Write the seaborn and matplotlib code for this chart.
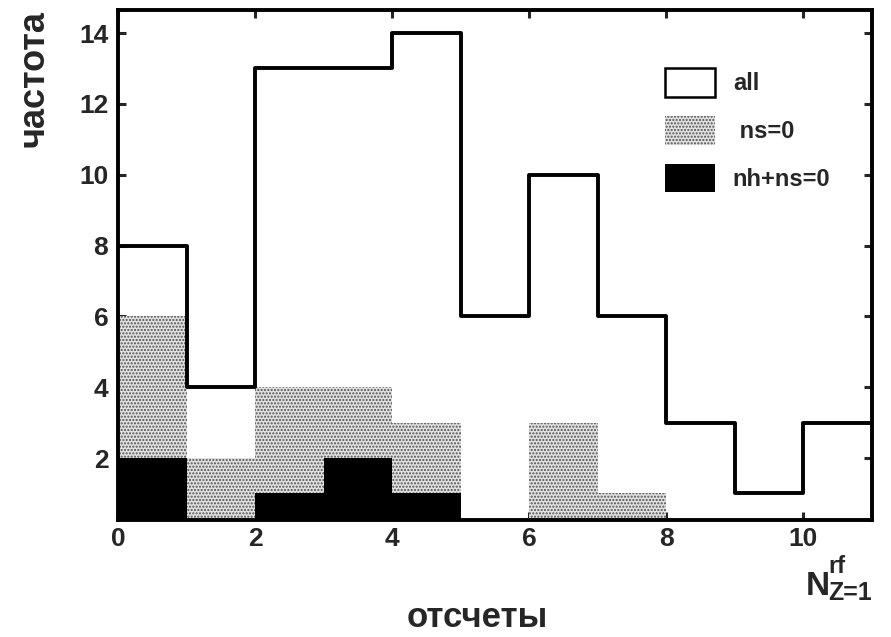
import numpy as np
import pandas as pd
import matplotlib
matplotlib.use("Agg")
import matplotlib.pyplot as plt
from matplotlib.patches import Patch
import seaborn as sns

# ---- data ----
bin_edges = [0, 1, 2, 3, 4, 5, 6, 7, 8, 9, 10, 11]
all_counts = [8, 4, 13, 13, 14, 6, 10, 6, 3, 1, 3]
ns0_counts = [6, 2, 4, 4, 3, 0, 3, 1, 0, 0, 0]
nhns0_counts = [2, 0, 1, 2, 1, 0, 0, 0, 0, 0, 0]
x_ticks = [0, 2, 4, 6, 8, 10]
y_ticks = [2, 4, 6, 8, 10, 12, 14]
legend_labels = ["all", " ns=0", "nh+ns=0"]

sns.set_style("white")
plt.rcParams["font.family"] = ["Liberation Sans", "DejaVu Sans"]
plt.rcParams["font.weight"] = "bold"
plt.rcParams["hatch.linewidth"] = 1.0

W, H = 891, 637
fig = plt.figure(figsize=(W / 100, H / 100), dpi=100)
ax = fig.add_axes([118 / W, 1 - 520 / H, (872 - 118) / W, (520 - 10) / H])

centers = [(a + b) / 2 for a, b in zip(bin_edges[:-1], bin_edges[1:])]
df = pd.DataFrame({"x": centers, "all": all_counts, "ns0": ns0_counts, "nhns0": nhns0_counts})

sns.histplot(data=df, x="x", weights="ns0", bins=bin_edges, element="bars", fill=True,
             facecolor="#e0e0e0", edgecolor="#505050", linewidth=0, hatch=".....",
             alpha=1, ax=ax, zorder=1)
sns.histplot(data=df, x="x", weights="nhns0", bins=bin_edges, element="bars", fill=True,
             color="black", linewidth=0, alpha=1, ax=ax, zorder=2)
sns.histplot(data=df, x="x", weights="all", bins=bin_edges, element="step", fill=False,
             color="black", linewidth=2.8, ax=ax, zorder=3)

ax.set_xlim(0, 11)
ax.set_ylim(0.25, 14.65)
ax.set_xticks(x_ticks)
ax.set_yticks(y_ticks)
ax.set_xticklabels([str(t) for t in x_ticks], fontsize=19, fontweight="bold")
ax.set_yticklabels([str(t) for t in y_ticks], fontsize=19, fontweight="bold")
ax.tick_params(axis="x", direction="in", length=6, width=2.2, top=True, bottom=True, pad=5)
ax.tick_params(axis="y", direction="in", length=6, width=2.2, left=True, right=True, pad=7)
for s in ax.spines.values():
    s.set_linewidth(2.8)
    s.set_color("black")

ax.set_ylabel("частота", fontsize=26, fontweight="bold", loc="top")
ax.yaxis.set_label_coords((52 - 118) / 754, 1.0)
ax.set_xlabel("")
fig.text(477 / W, 1 - 627 / H, "отсчеты", fontsize=25, fontweight="bold",
         ha="center", va="baseline")

# axis variable label N^rf_{Z=1}
fig.text(806 / W, 1 - 595 / H, "N", fontsize=24, fontweight="bold", ha="left", va="baseline")
fig.text(828 / W, 1 - 573 / H, "rf", fontsize=17, fontweight="bold", ha="left", va="baseline")
fig.text(828 / W, 1 - 600 / H, "Z=1", fontsize=18, fontweight="bold", ha="left", va="baseline")

handles = [
    Patch(facecolor="white", edgecolor="black", linewidth=1.8),
    Patch(facecolor="#e0e0e0", edgecolor="#505050", linewidth=0, hatch="....."),
    Patch(facecolor="black", edgecolor="black", linewidth=0),
]
leg = ax.legend(handles, legend_labels, loc="upper left", bbox_to_anchor=(0.7255, 0.886),
                frameon=False, fontsize=17, handlelength=2.12, handleheight=1.5,
                labelspacing=0.8, handletextpad=0.75, borderpad=0, borderaxespad=0)
for t in leg.get_texts():
    t.set_fontweight("bold")

fig.savefig("out.png", dpi=100, facecolor="white")
